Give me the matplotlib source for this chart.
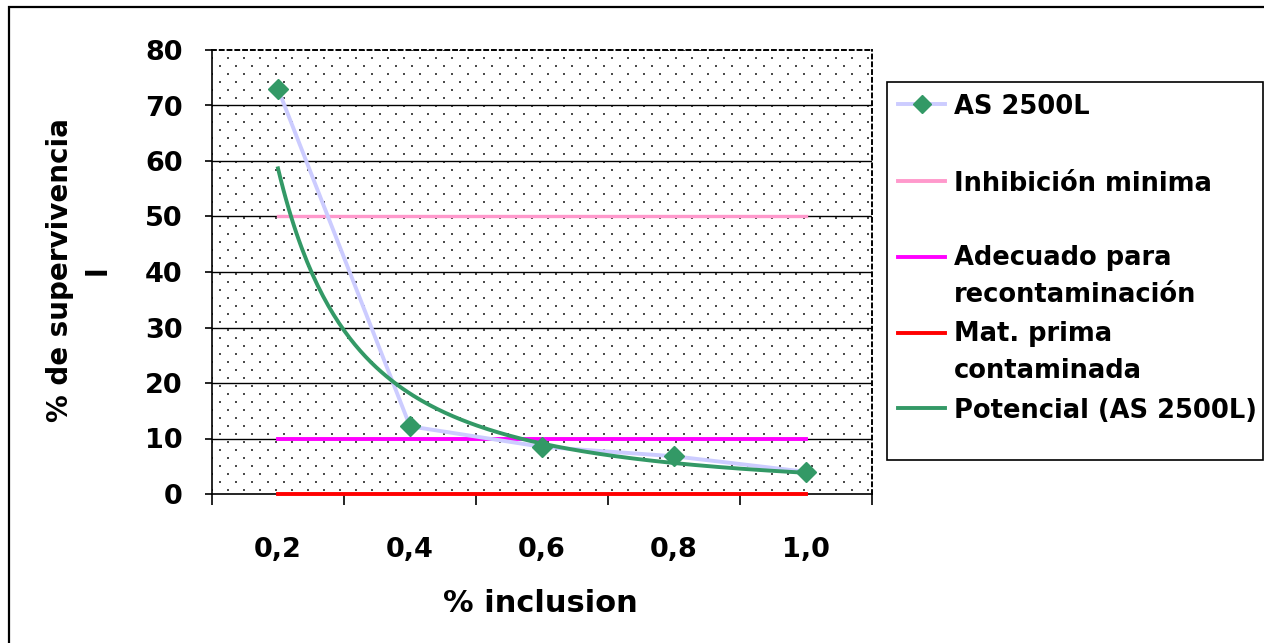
import numpy as np
import matplotlib
matplotlib.use("Agg")
import matplotlib.pyplot as plt
from matplotlib.lines import Line2D
from matplotlib.patches import Rectangle

# ---- data ----
categories = ["0,2", "0,4", "0,6", "0,8", "1,0"]
as2500l = [73.0, 12.2, 8.5, 6.8, 4.0]
inhibicion_minima = [50, 50, 50, 50, 50]
adecuado_recont = [10, 10, 10, 10, 10]
mat_prima_cont = [0, 0, 0, 0, 0]
y_ticks = [0, 10, 20, 30, 40, 50, 60, 70, 80]

legend_labels = ["AS 2500L", "Inhibición minima", "Adecuado para\nrecontaminación",
                 "Mat. prima\ncontaminada", "Potencial (AS 2500L)"]

C_SERIES = "#CCCCFF"
C_MARK = "#339966"
C_PINK = "#FF99CC"
C_MAG = "#FF00FF"
C_RED = "#FF0000"
C_TREND = "#339966"

plt.rcParams["font.family"] = ["DejaVu Sans"]
plt.rcParams["font.weight"] = "bold"

W, H = 1264, 643
fig = plt.figure(figsize=(W / 100, H / 100), dpi=100)


def fx(px):
    return px / W


def fy(py):
    return 1 - py / H


ax = fig.add_axes([fx(212), fy(494), 660 / W, 444 / H])

# dotted background pattern
ph, pw = 444, 660
yy, xx = np.indices((ph, pw))
row = (yy - 7) // 8
mask = (((yy - 7) % 8) < 2) & (((xx - 15 + 8 * (row % 2)) % 16) < 2)
img = np.ones((ph, pw, 3))
img[mask] = 0.3
ax.imshow(img, extent=(0, 1, 0, 1), transform=ax.transAxes, aspect="auto",
          interpolation="nearest", zorder=0)

x = np.arange(len(categories))

# gridlines
for yv in y_ticks[1:-1]:
    ax.axhline(yv, color="black", lw=1.0, zorder=1)

# threshold lines
ax.plot(x, inhibicion_minima, color=C_PINK, lw=2.4, zorder=3, clip_on=False)
ax.plot(x, adecuado_recont, color=C_MAG, lw=2.8, zorder=3, clip_on=False)
ax.plot(x, mat_prima_cont, color=C_RED, lw=2.8, zorder=3, clip_on=False)

# series
ax.plot(x, as2500l, color=C_SERIES, lw=2.8, zorder=4)

# power trendline (fit over category indices 1..5 as Excel does)
xi = x + 1.0
b, lna = np.polyfit(np.log(xi), np.log(as2500l), 1)
xt = np.linspace(xi[0], xi[-1], 200)
ax.plot(xt - 1, np.exp(lna) * xt ** b, color=C_TREND, lw=2.8, zorder=5)

ax.plot(x, as2500l, linestyle="none", marker="D", markersize=10.5,
        markerfacecolor=C_MARK, markeredgecolor=C_MARK, zorder=6, clip_on=False)

ax.set_xlim(-0.5, len(categories) - 0.5)
ax.set_ylim(0, 80)
ax.set_yticks(y_ticks)
ax.set_yticklabels([str(v) for v in y_ticks])
ax.set_xticks(x)
ax.set_xticklabels(categories)
ax.set_xticks(np.arange(-0.5, len(categories)), minor=True)
ax.tick_params(axis="x", which="major", length=0, pad=31, labelsize=19.5)
ax.tick_params(axis="x", which="minor", length=8, width=1.2, direction="out", color="black")
ax.tick_params(axis="y", which="major", length=5, width=1.2, pad=16, labelsize=19.5,
               direction="out", color="black")
for lbl in ax.get_xticklabels() + ax.get_yticklabels():
    lbl.set_fontweight("bold")

for s in ("left", "bottom"):
    ax.spines[s].set_color("black")
    ax.spines[s].set_linewidth(1.2)
for s in ("top", "right"):
    ax.spines[s].set_color("black")
    ax.spines[s].set_linewidth(1.4)
    ax.spines[s].set_linestyle((0, (2, 2)))

# axis titles
fig.text(fx(540), fy(604), "% inclusion", ha="center", va="center",
         fontsize=22, fontweight="bold")
fig.text(fx(79), fy(270), "% de supervivencia\nl", ha="center", va="center",
         rotation=90, fontsize=20, fontweight="bold", multialignment="center",
         linespacing=1.45)

# figure border
fig.add_artist(Rectangle((fx(9), fy(660)), fx(1300), fy(7) - fy(660),
                         transform=fig.transFigure, fill=False,
                         edgecolor="black", lw=1.6))

# legend (manual, Excel style)
fig.add_artist(Rectangle((fx(887), fy(460)), fx(1263) - fx(887), fy(82) - fy(460),
                         transform=fig.transFigure, fill=False,
                         edgecolor="black", lw=1.2))
handle_colors = [C_SERIES, C_PINK, C_MAG, C_RED, C_TREND]
handle_y = [104, 181, 257, 333, 408]
line_step = 35
leg_fs = 18.5
for lab, col, hy in zip(legend_labels, handle_colors, handle_y):
    fig.add_artist(Line2D([fx(898), fx(945)], [fy(hy), fy(hy)],
                          transform=fig.transFigure, color=col, lw=2.8))
    nlines = lab.count("\n") + 1
    base_last = hy + 10 + (nlines - 1) * line_step
    fig.text(fx(954), fy(base_last), lab, ha="left", va="baseline",
             fontsize=leg_fs, fontweight="bold", linespacing=1.55)
fig.add_artist(Line2D([fx(921.5)], [fy(handle_y[0])], transform=fig.transFigure,
                      linestyle="none", marker="D", markersize=9.5,
                      markerfacecolor=C_MARK, markeredgecolor=C_MARK))

fig.savefig("out.png", dpi=100, facecolor="white")
